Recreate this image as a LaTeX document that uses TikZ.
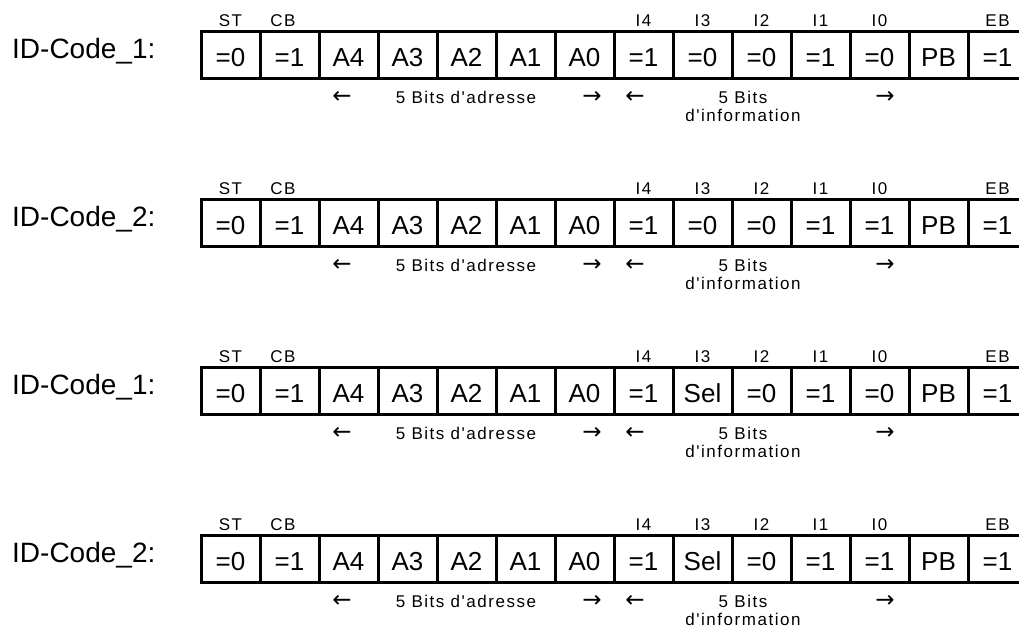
\documentclass[tikz,border=0pt]{standalone}
\usepackage{fontspec}
\setmainfont{Liberation Sans}
\newfontfamily\spacedf{Liberation Sans}[LetterSpace=9,Ligatures=TeXOff]
\newfontfamily\arrowf{DejaVu Sans}
\begin{document}
\begin{tikzpicture}[x=1pt,y=-1pt,
  cell/.style={draw, line width=3pt, minimum width=59pt, minimum height=47pt, inner sep=0pt,
    text height=23pt, text depth=0pt, font=\fontsize{26}{30}\selectfont},
  rowlabel/.style={anchor=base west, inner sep=0pt, font=\fontsize{28}{32}\selectfont},
  small/.style={anchor=base, inner sep=0pt, font=\spacedf\fontsize{17}{20}\selectfont},
  arr/.style={anchor=base, inner sep=0pt, font=\arrowf\fontsize{23}{26}\selectfont}]
\useasboundingbox (0,0) rectangle (1019,629);
\foreach \r/\lab/\a/\b/\c/\d/\e in {0/1/=1/=0/=0/=1/=0, 1/2/=1/=0/=0/=1/=1, 2/1/=1/Sel/=0/=1/=0, 3/2/=1/Sel/=0/=1/=1}{
  \pgfmathsetmacro\yc{54.5+168*\r}
  \node[rowlabel] (lab\r) at (12,\yc+3.5) {ID-Code\_\lab:};
  \foreach [count=\k] \t in {=0,=1,A4,A3,A2,A1,A0,\a,\b,\c,\d,\e,PB,=1}{
    \node[cell] (c\r-\k) at ({201+59*(\k-0.5)},\yc) {\t};
  }
  \foreach \n/\x/\s in {st/230.5/ST, cb/283/CB, i4/643.5/I4, i3/702.5/I3, i2/761.5/I2, i1/820.5/I1, i0/879.5/I0, eb/997.5/EB}{
    \node[small] (\n\r) at (\x,\yc-28.5) {\s};
  }
  \node[arr] (al\r) at (342,\yc+49) {←};
  \node[small] (at\r) at (466,\yc+49) {5 Bits d'adresse};
  \node[arr] (ar\r) at (592,\yc+49) {→};
  \node[arr] (il\r) at (635,\yc+49) {←};
  \node[small] (it\r) at (743,\yc+49) {5 Bits};
  \node[arr] (ir\r) at (885,\yc+49) {→};
  \node[small] (iu\r) at (743,\yc+67) {d'information};
}
\end{tikzpicture}
\end{document}
